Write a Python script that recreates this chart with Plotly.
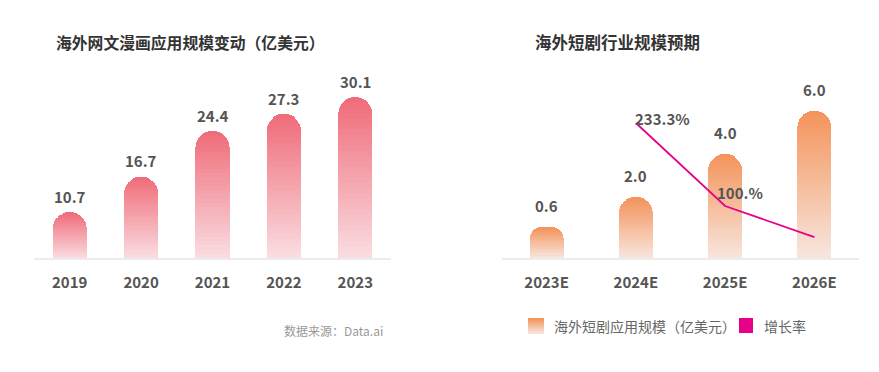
import plotly.graph_objects as go

# ---------------- data ----------------
left_years = ["2019", "2020", "2021", "2022", "2023"]
left_values = [10.7, 16.7, 24.4, 27.3, 30.1]
left_title = "海外网文漫画应用规模变动（亿美元）"

right_years = ["2023E", "2024E", "2025E", "2026E"]
right_values = [0.6, 2.0, 4.0, 6.0]
growth_values = [None, 233.3, 100.0, 50.0]
growth_labels = ["", "233.3%", "100.%", ""]
right_title = "海外短剧行业规模预期"
legend_bar = "海外短剧应用规模（亿美元）"
legend_line = "增长率"
source_text = "数据来源：Data.ai"

# ---------------- style ----------------
FONT = "Noto Sans CJK SC"
W, H = 879, 372
OFF = 8  # page body margin compensation
LEFT_TOP, LEFT_BOT = "#ef6b78", "#fadde2"
RIGHT_TOP, RIGHT_BOT = "#f4935a", "#f7e6de"
LINE_COLOR = "#e8008a"
TXT = "#555555"
N_SEG = 30
M_FILL = 8

L_RANGE = [2.95, 32.97]
R_RANGE = [-0.84, 7.44]
G_RANGE = [16.5, 302.4]

growth_label_shift = [(0, 0), (-3, 5), (-10, 14), (0, 0)]


def px(x):
    return (x - OFF) / W


def py(y):
    return 1 - (y - OFF) / H


def hex2rgb(h):
    h = h.lstrip("#")
    return tuple(int(h[i:i + 2], 16) for i in (0, 2, 4))


def mix(c0, c1, t):
    t = max(0.0, min(1.0, t))
    a, b = hex2rgb(c0), hex2rgb(c1)
    return "rgb(%d,%d,%d)" % tuple(round(a[i] + (b[i] - a[i]) * t) for i in range(3))


fig = go.Figure()


def gradient_bars(vals, ymin, top_col, bot_col, width, xa, ya):
    idx = list(range(len(vals)))
    lo = max(ymin, 0.0)

    def col(h, v):
        return mix(bot_col, top_col, (h - ymin) / (v - ymin))

    if ymin < 0:
        for m in range(M_FILL):
            b0 = ymin + (0 - ymin) * m / M_FILL
            b1 = ymin + (0 - ymin) * (m + 1) / M_FILL
            fig.add_trace(go.Bar(
                x=idx, y=[b1 - b0] * len(vals), base=[b0] * len(vals), width=width,
                marker=dict(color=[col((b0 + b1) / 2, v) for v in vals],
                            line=dict(width=0), cornerradius=0),
                xaxis=xa, yaxis=ya, showlegend=False, hoverinfo="skip"))
    if lo > 0:
        fig.add_trace(go.Bar(
            x=idx, y=[lo] * len(vals), width=width,
            marker=dict(color=bot_col, line=dict(width=0)),
            xaxis=xa, yaxis=ya, showlegend=False, hoverinfo="skip"))
    for k in range(N_SEG):
        heights, colors = [], []
        for v in vals:
            e0 = lo + (v - lo) * k / N_SEG
            e1 = lo + (v - lo) * (k + 1) / N_SEG
            heights.append(e1 - e0)
            colors.append(col((e0 + e1) / 2, v))
        fig.add_trace(go.Bar(
            x=idx, y=heights, width=width,
            marker=dict(color=colors, line=dict(width=0)),
            xaxis=xa, yaxis=ya, showlegend=False, hoverinfo="skip"))


gradient_bars(left_values, L_RANGE[0], LEFT_TOP, LEFT_BOT, 0.48, "x", "y")
gradient_bars(right_values, R_RANGE[0], RIGHT_TOP, RIGHT_BOT, 0.38, "x2", "y2")

fig.add_trace(go.Scatter(
    x=list(range(len(right_years))), y=growth_values, mode="lines",
    line=dict(color=LINE_COLOR, width=1.8),
    xaxis="x2", yaxis="y3", showlegend=False, hoverinfo="skip", connectgaps=False))

annotations = []
for i, v in enumerate(left_values):
    annotations.append(dict(x=i, y=v, xref="x", yref="y", text=f"{v:.1f}",
                            showarrow=False, yanchor="bottom", yshift=3,
                            font=dict(family=FONT, size=15, color=TXT, weight=700)))
for i, v in enumerate(right_values):
    annotations.append(dict(x=i, y=v, xref="x2", yref="y2", text=f"{v:.1f}",
                            showarrow=False, yanchor="bottom", yshift=9,
                            font=dict(family=FONT, size=15, color=TXT, weight=700)))
for i, (g, lab, (dx, dy)) in enumerate(zip(growth_values, growth_labels, growth_label_shift)):
    if g is None or not lab:
        continue
    annotations.append(dict(x=i, y=g, xref="x2", yref="y3", text=lab,
                            showarrow=False, xanchor="left", yanchor="middle",
                            xshift=dx, yshift=dy,
                            font=dict(family=FONT, size=15, color=TXT, weight=600)))

annotations.append(dict(x=px(54), y=py(42), xref="paper", yref="paper", text=left_title,
                        showarrow=False, xanchor="left", yanchor="middle",
                        font=dict(family=FONT, size=15.8, color="#333333", weight=700)))
annotations.append(dict(x=px(533), y=py(42), xref="paper", yref="paper", text=right_title,
                        showarrow=False, xanchor="left", yanchor="middle",
                        font=dict(family=FONT, size=16.5, color="#333333", weight=700)))
annotations.append(dict(x=px(333), y=py(330), xref="paper", yref="paper", text=source_text,
                        showarrow=False, xanchor="center", yanchor="middle",
                        font=dict(family=FONT, size=12, color="#999999")))
annotations.append(dict(x=px(552), y=py(326), xref="paper", yref="paper", text=legend_bar,
                        showarrow=False, xanchor="left", yanchor="middle",
                        font=dict(family=FONT, size=14, color="#666666")))
annotations.append(dict(x=px(762), y=py(326), xref="paper", yref="paper", text=legend_line,
                        showarrow=False, xanchor="left", yanchor="middle",
                        font=dict(family=FONT, size=14, color="#666666")))

shapes = []
n_strip = 16
x0s, x1s, y0s, y1s = 528, 544, 318, 334
for i in range(n_strip):
    t = i / (n_strip - 1)
    ya = y0s + (y1s - y0s) * i / n_strip
    yb = y0s + (y1s - y0s) * (i + 1) / n_strip
    shapes.append(dict(type="rect", xref="paper", yref="paper",
                       x0=px(x0s), x1=px(x1s), y0=py(ya), y1=py(yb),
                       fillcolor=mix(RIGHT_TOP, RIGHT_BOT, t), line=dict(width=0)))
shapes.append(dict(type="rect", xref="paper", yref="paper",
                   x0=px(739), x1=px(753), y0=py(318), y1=py(333),
                   fillcolor=LINE_COLOR, line=dict(width=0)))

ydom = [py(258), py(80)]
tickfont = dict(family=FONT, size=15, color=TXT, weight=700)
fig.update_layout(
    template="none",
    width=W, height=H, autosize=False,
    margin=dict(l=0, r=0, t=0, b=0, pad=0),
    paper_bgcolor="white", plot_bgcolor="white",
    barmode="stack", barcornerradius="50%",
    showlegend=False,
    font=dict(family=FONT),
    xaxis=dict(domain=[px(34), px(391)], tickmode="array",
               tickvals=list(range(len(left_years))), ticktext=left_years,
               range=[-0.5, len(left_years) - 0.5], showgrid=False, zeroline=False,
               showline=True, linecolor="#ececec", linewidth=2, ticks="",
               tickfont=tickfont, ticklabelstandoff=10, fixedrange=True, automargin=False),
    yaxis=dict(domain=ydom, range=L_RANGE, visible=False, fixedrange=True, automargin=False),
    xaxis2=dict(domain=[px(502), px(859)], tickmode="array",
                tickvals=list(range(len(right_years))), ticktext=right_years,
                range=[-0.5, len(right_years) - 0.5], showgrid=False, zeroline=False,
                showline=True, linecolor="#ececec", linewidth=2, ticks="",
                tickfont=tickfont, ticklabelstandoff=10, anchor="y2", fixedrange=True,
                automargin=False),
    yaxis2=dict(domain=ydom, range=R_RANGE, visible=False, anchor="x2", fixedrange=True,
                automargin=False),
    yaxis3=dict(range=G_RANGE, visible=False, overlaying="y2", anchor="x2", fixedrange=True,
                automargin=False),
    annotations=annotations,
    shapes=shapes,
)

fig.write_html("out.html")
